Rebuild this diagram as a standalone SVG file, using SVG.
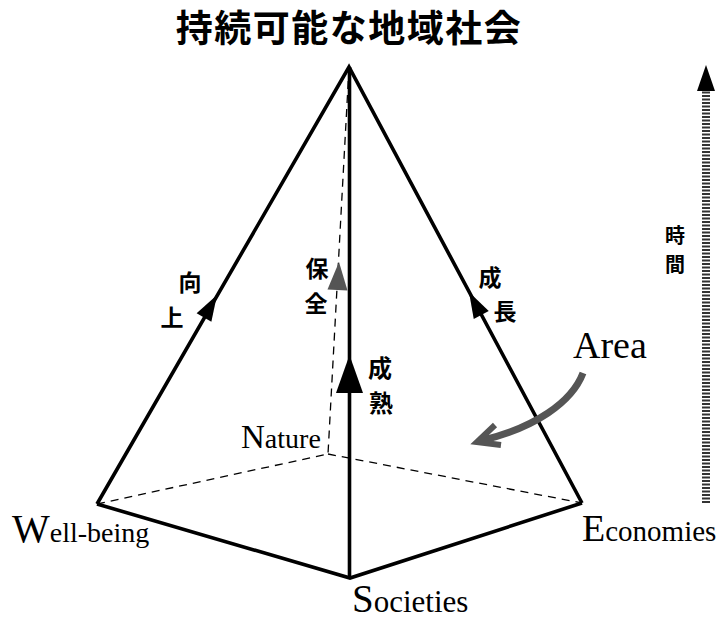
<svg xmlns="http://www.w3.org/2000/svg" width="719" height="621" viewBox="0 0 719 621">
<style>
.thick{stroke:#000;stroke-width:3.6;fill:none;stroke-linejoin:miter;stroke-linecap:butt}
.dash{stroke:#000;stroke-width:1.3;fill:none;stroke-dasharray:8 6}
.cjk{font-family:"Noto Sans CJK JP","Noto Sans CJK SC",sans-serif;font-weight:700;fill:#000;text-anchor:middle}
.lat{font-family:"Liberation Serif","Times New Roman",serif;fill:#000}
</style>
<defs>
<path id="ah" d="M0,0 L-26,-8.5 L-26,8.5 Z"/>
<path id="ahBig" d="M0,0 L-38,-13.5 L-38,13.5 Z"/>
<path id="ahGray" d="M0,0 L-28,-10 L-28,10 Z"/>
</defs>
<rect width="719" height="621" fill="#fff"/>
<g id="title"><text class="cjk" x="349" y="42" font-size="37" letter-spacing="1.5">持続可能な地域社会</text></g>
<g id="connectors">
<line class="dash" x1="97" y1="504" x2="328" y2="454"/>
<line class="dash" x1="328" y1="454" x2="582" y2="503"/>
<line class="dash" x1="349" y1="67" x2="328" y2="454"/>
<polyline class="thick" points="97,504 349,67 582,503"/>
<polyline class="thick" points="97,504 350,578 582,503"/>
<line class="thick" x1="349.5" y1="67" x2="349.5" y2="578"/>
<use href="#ah" transform="translate(217,295) rotate(-60)"/>
<use href="#ah" transform="translate(469,292) rotate(-118.1)"/>
<use href="#ahBig" transform="translate(349.5,355) rotate(-90)"/>
<use href="#ahGray" fill="#555" transform="translate(339,262) rotate(-86.9)"/>
</g>
<g id="label-koujou"><text class="cjk" x="190" y="291" font-size="23">向</text><text class="cjk" x="172" y="326" font-size="23">上</text></g>
<g id="label-seichou"><text class="cjk" x="490" y="286" font-size="23">成</text><text class="cjk" x="505" y="320" font-size="23">長</text></g>
<g id="label-hozen"><text class="cjk" x="317" y="277" font-size="23">保</text><text class="cjk" x="316" y="312" font-size="23">全</text></g>
<g id="label-seijuku"><text class="cjk" x="380" y="377" font-size="24">成</text><text class="cjk" x="381" y="412" font-size="24">熟</text></g>
<g id="wellbeing"><text class="lat" x="12" y="542"><tspan font-size="40">W</tspan><tspan font-size="28">ell-being</tspan></text></g>
<g id="nature"><text class="lat" x="241" y="448"><tspan font-size="33">N</tspan><tspan font-size="28">ature</tspan></text></g>
<g id="economies"><text class="lat" x="582" y="541"><tspan font-size="38">E</tspan><tspan font-size="29">conomies</tspan></text></g>
<g id="societies"><text class="lat" x="352" y="612"><tspan font-size="39">S</tspan><tspan font-size="31">ocieties</tspan></text></g>
<g id="area">
<text class="lat" x="573" y="358" font-size="38">Area</text>
<path d="M583,373 C572,402 535,428 480,441" stroke="#555" stroke-width="7" fill="none" stroke-linecap="butt"/>
<polyline points="495,425 477,442 501,445" stroke="#555" stroke-width="6" fill="none" stroke-linejoin="miter"/>
</g>
<g id="time">
<line x1="706" y1="503" x2="706" y2="90" stroke="#333" stroke-width="8" stroke-dasharray="2 1.5"/>
<path d="M706,65 L697,91 L715,91 Z" fill="#000"/>
<text class="cjk" x="675" y="243" font-size="20">時</text>
<text class="cjk" x="675" y="272" font-size="20">間</text>
</g>
</svg>
